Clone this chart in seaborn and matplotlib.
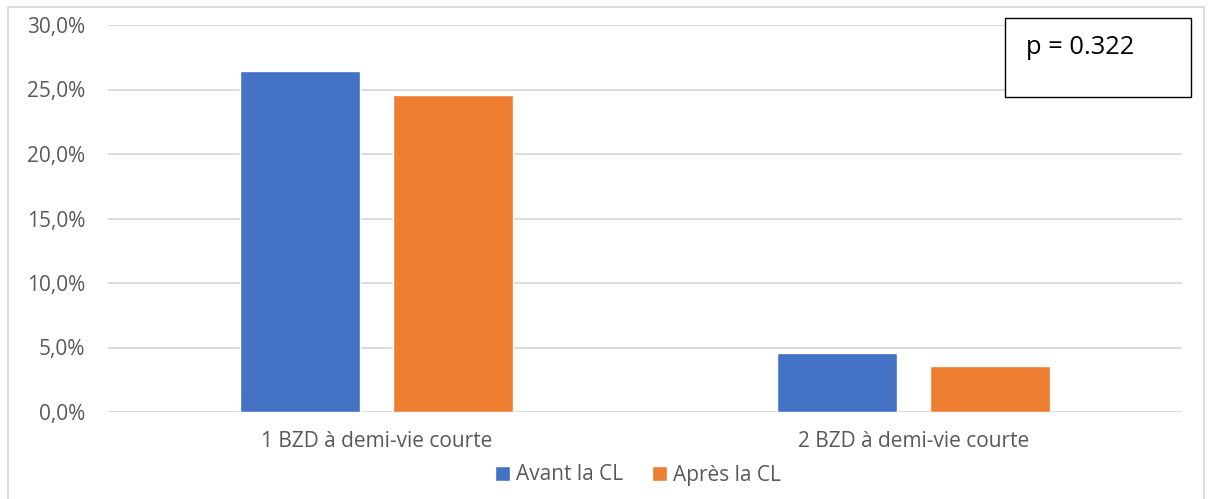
import matplotlib
matplotlib.use("Agg")
import matplotlib.pyplot as plt
import seaborn as sns
import pandas as pd
from matplotlib.patches import Rectangle
from matplotlib.ticker import FuncFormatter, MultipleLocator

categories = ["1 BZD à demi-vie courte", "2 BZD à demi-vie courte"]
series = ["Avant la CL", "Après la CL"]
avant = [26.4, 4.6]
apres = [24.6, 3.6]
p_text = "p = 0.322"

sns.set_theme(style="white")
plt.rcParams['font.family'] = ['Open Sans', 'DejaVu Sans']

df = pd.DataFrame({
    "cat": categories * 2,
    "serie": [series[0]] * 2 + [series[1]] * 2,
    "val": avant + apres,
})

fig = plt.figure(figsize=(12.08, 4.99), dpi=100)
ax = fig.add_axes([108/1208, 1-412/499, (1182-108)/1208, (412-25)/499])

sns.barplot(data=df, x="cat", y="val", hue="serie", order=categories, hue_order=series,
            palette=["#4472C4", "#ED7D31"], width=0.57, gap=0.216, ax=ax,
            saturation=1, legend=True, errorbar=None)

ax.set_xlim(-0.5, 1.5)
ax.set_ylim(0, 30)
ax.yaxis.set_major_locator(MultipleLocator(5))
ax.yaxis.set_major_formatter(FuncFormatter(lambda v, p: f"{v:.1f}%".replace('.', ',')))
ax.grid(axis='y', color='#d9d9d9', linewidth=1.3)
ax.set_axisbelow(True)
for s in ax.spines.values():
    s.set_visible(False)
ax.set_xlabel("")
ax.set_ylabel("")
ax.tick_params(axis='y', length=0, pad=16.5, labelsize=15, labelcolor='#595959')
ax.tick_params(axis='x', length=0, pad=14, labelsize=15, labelcolor='#595959')
for lbl in ax.get_yticklabels():
    lbl.set_horizontalalignment('right')

handles, labels = ax.get_legend_handles_labels()
ax.legend_.remove()
fig.legend(handles, labels, loc='center', bbox_to_anchor=(638/1208, 1-475/499), ncol=2,
           frameon=False, fontsize=15, labelcolor='#595959', handlelength=0.7, handleheight=0.7,
           handletextpad=0.3, columnspacing=1.4)

# outer border
fig.patches.append(Rectangle((8/1208, -5/499), (1204-8)/1208, (492+5)/499,
                             transform=fig.transFigure, fill=False, edgecolor='#d9d9d9', linewidth=1.3))
# p-value box
fig.patches.append(Rectangle((1005/1208, 1-97/499), (1191-1005)/1208, (97-18)/499,
                             transform=fig.transFigure, facecolor='white', edgecolor='black',
                             linewidth=1.0, zorder=5))
fig.text(1026/1208, 1-48/499, p_text, fontsize=18.4, color='black', va='center', ha='left', zorder=6)

fig.savefig("out.png", dpi=100)
